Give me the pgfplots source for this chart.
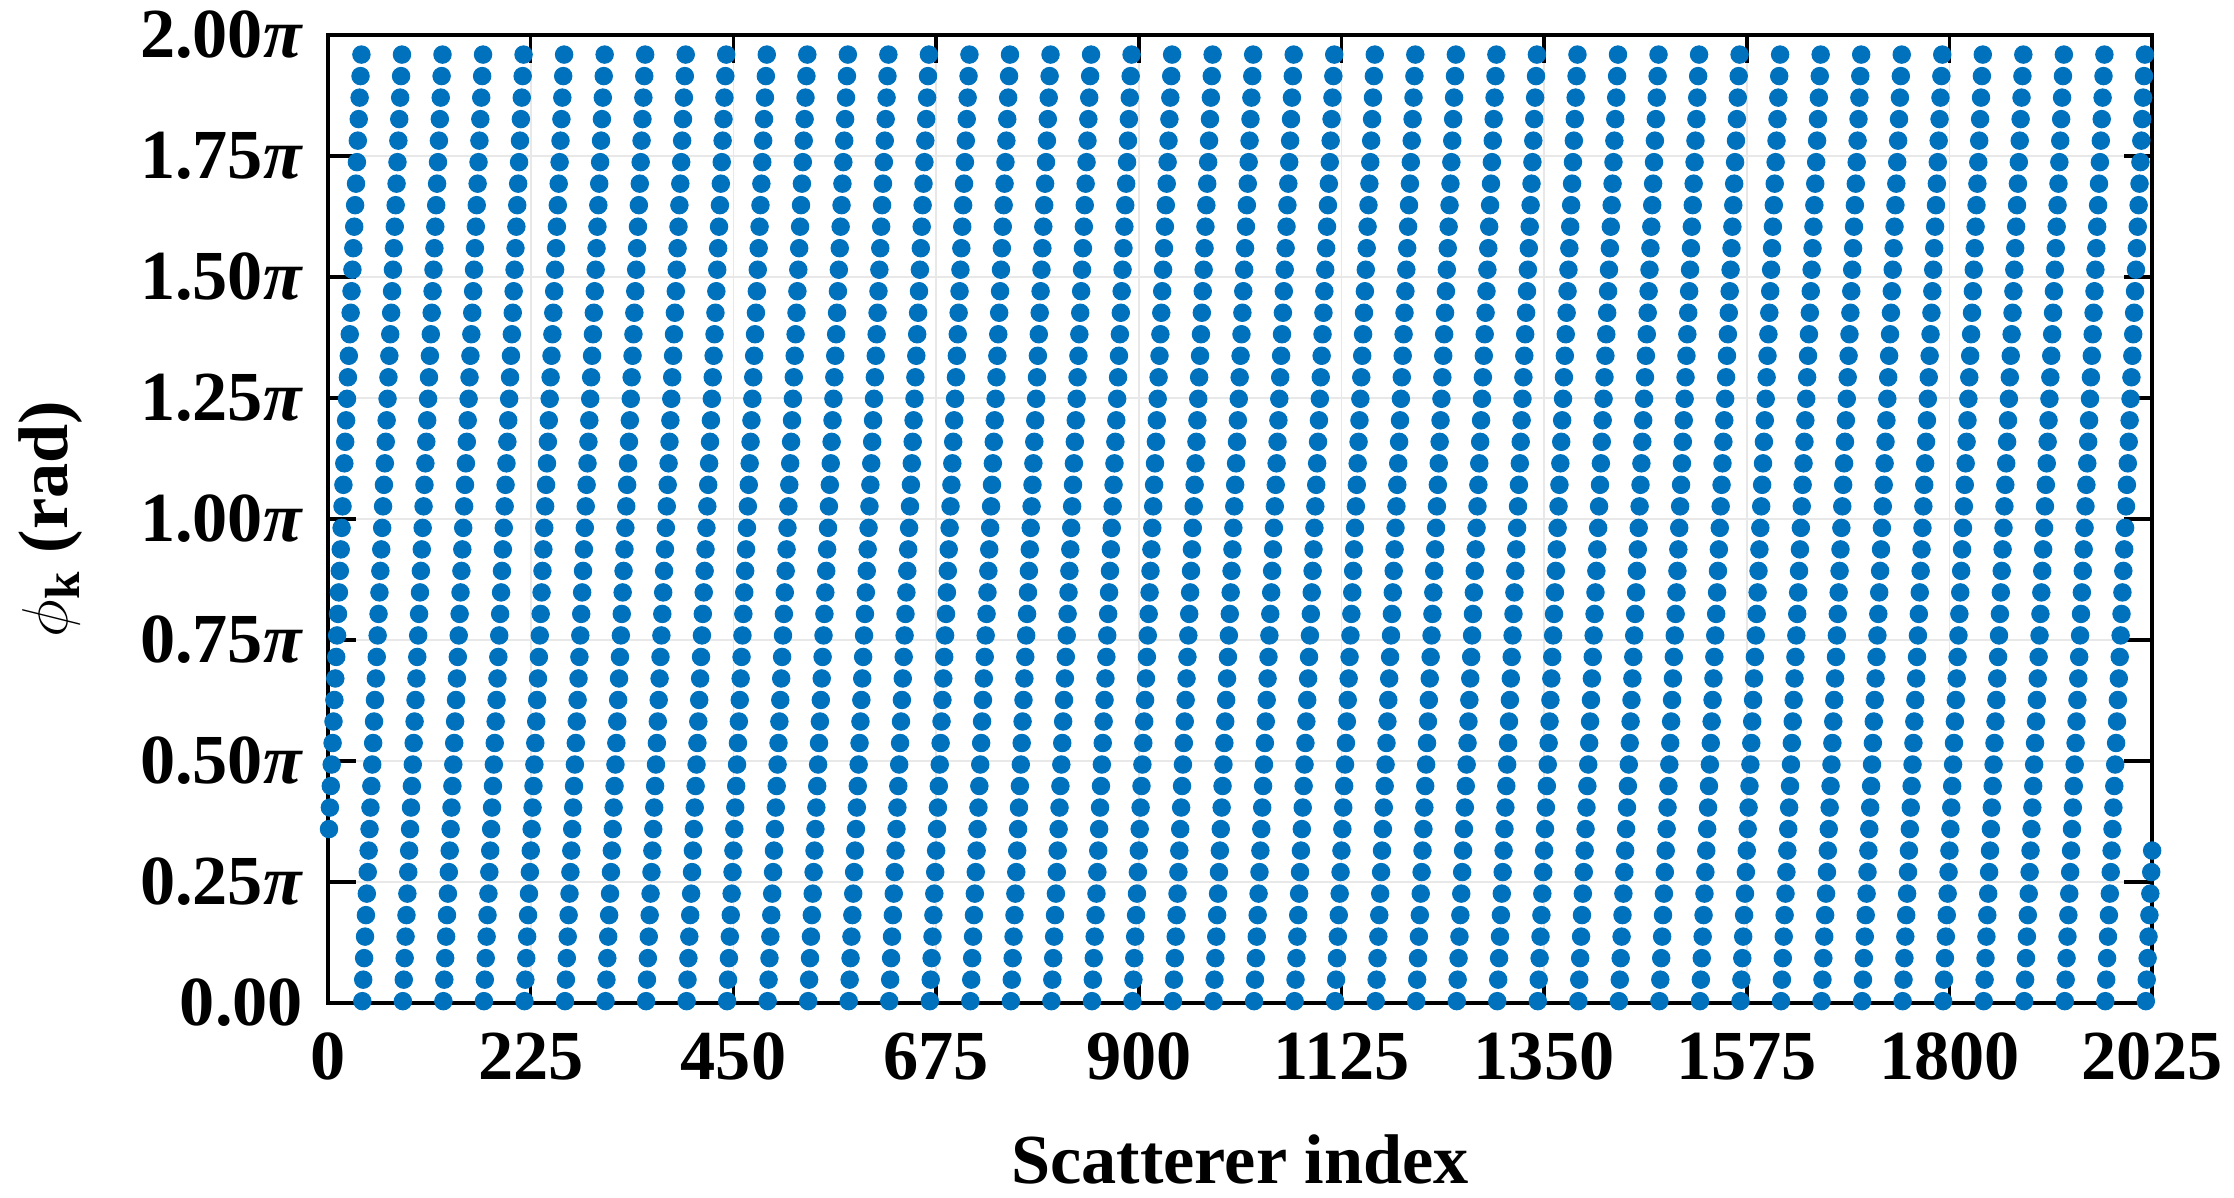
\documentclass[border=0pt]{standalone}
\usepackage{fontspec}
\setmainfont{Liberation Serif}
\usepackage{pgfplots}
\usepackage{pgfplotstable}
\pgfplotsset{compat=1.18}
\definecolor{mblue}{RGB}{0,114,189}
\definecolor{gridgray}{RGB}{232,232,232}

% phase level of each scatterer, in steps of 2pi/45 (index 1..2025), one line per column of dots
\pgfplotstableread[row sep=\\]{
n\\
8\\9\\10\\11\\12\\13\\14\\15\\16\\17\\18\\19\\20\\21\\22\\23\\24\\25\\26\\27\\28\\29\\30\\31\\32\\33\\34\\35\\36\\37\\38\\39\\40\\41\\42\\43\\44\\
0\\1\\2\\3\\4\\5\\6\\7\\8\\9\\10\\11\\12\\13\\14\\15\\16\\17\\18\\19\\20\\21\\22\\23\\24\\25\\26\\27\\28\\29\\30\\31\\32\\33\\34\\35\\36\\37\\38\\39\\40\\41\\42\\43\\44\\
0\\1\\2\\3\\4\\5\\6\\7\\8\\9\\10\\11\\12\\13\\14\\15\\16\\17\\18\\19\\20\\21\\22\\23\\24\\25\\26\\27\\28\\29\\30\\31\\32\\33\\34\\35\\36\\37\\38\\39\\40\\41\\42\\43\\44\\
0\\1\\2\\3\\4\\5\\6\\7\\8\\9\\10\\11\\12\\13\\14\\15\\16\\17\\18\\19\\20\\21\\22\\23\\24\\25\\26\\27\\28\\29\\30\\31\\32\\33\\34\\35\\36\\37\\38\\39\\40\\41\\42\\43\\44\\
0\\1\\2\\3\\4\\5\\6\\7\\8\\9\\10\\11\\12\\13\\14\\15\\16\\17\\18\\19\\20\\21\\22\\23\\24\\25\\26\\27\\28\\29\\30\\31\\32\\33\\34\\35\\36\\37\\38\\39\\40\\41\\42\\43\\44\\
0\\1\\2\\3\\4\\5\\6\\7\\8\\9\\10\\11\\12\\13\\14\\15\\16\\17\\18\\19\\20\\21\\22\\23\\24\\25\\26\\27\\28\\29\\30\\31\\32\\33\\34\\35\\36\\37\\38\\39\\40\\41\\42\\43\\44\\
0\\1\\2\\3\\4\\5\\6\\7\\8\\9\\10\\11\\12\\13\\14\\15\\16\\17\\18\\19\\20\\21\\22\\23\\24\\25\\26\\27\\28\\29\\30\\31\\32\\33\\34\\35\\36\\37\\38\\39\\40\\41\\42\\43\\44\\
0\\1\\2\\3\\4\\5\\6\\7\\8\\9\\10\\11\\12\\13\\14\\15\\16\\17\\18\\19\\20\\21\\22\\23\\24\\25\\26\\27\\28\\29\\30\\31\\32\\33\\34\\35\\36\\37\\38\\39\\40\\41\\42\\43\\44\\
0\\1\\2\\3\\4\\5\\6\\7\\8\\9\\10\\11\\12\\13\\14\\15\\16\\17\\18\\19\\20\\21\\22\\23\\24\\25\\26\\27\\28\\29\\30\\31\\32\\33\\34\\35\\36\\37\\38\\39\\40\\41\\42\\43\\44\\
0\\1\\2\\3\\4\\5\\6\\7\\8\\9\\10\\11\\12\\13\\14\\15\\16\\17\\18\\19\\20\\21\\22\\23\\24\\25\\26\\27\\28\\29\\30\\31\\32\\33\\34\\35\\36\\37\\38\\39\\40\\41\\42\\43\\44\\
0\\1\\2\\3\\4\\5\\6\\7\\8\\9\\10\\11\\12\\13\\14\\15\\16\\17\\18\\19\\20\\21\\22\\23\\24\\25\\26\\27\\28\\29\\30\\31\\32\\33\\34\\35\\36\\37\\38\\39\\40\\41\\42\\43\\44\\
0\\1\\2\\3\\4\\5\\6\\7\\8\\9\\10\\11\\12\\13\\14\\15\\16\\17\\18\\19\\20\\21\\22\\23\\24\\25\\26\\27\\28\\29\\30\\31\\32\\33\\34\\35\\36\\37\\38\\39\\40\\41\\42\\43\\44\\
0\\1\\2\\3\\4\\5\\6\\7\\8\\9\\10\\11\\12\\13\\14\\15\\16\\17\\18\\19\\20\\21\\22\\23\\24\\25\\26\\27\\28\\29\\30\\31\\32\\33\\34\\35\\36\\37\\38\\39\\40\\41\\42\\43\\44\\
0\\1\\2\\3\\4\\5\\6\\7\\8\\9\\10\\11\\12\\13\\14\\15\\16\\17\\18\\19\\20\\21\\22\\23\\24\\25\\26\\27\\28\\29\\30\\31\\32\\33\\34\\35\\36\\37\\38\\39\\40\\41\\42\\43\\44\\
0\\1\\2\\3\\4\\5\\6\\7\\8\\9\\10\\11\\12\\13\\14\\15\\16\\17\\18\\19\\20\\21\\22\\23\\24\\25\\26\\27\\28\\29\\30\\31\\32\\33\\34\\35\\36\\37\\38\\39\\40\\41\\42\\43\\44\\
0\\1\\2\\3\\4\\5\\6\\7\\8\\9\\10\\11\\12\\13\\14\\15\\16\\17\\18\\19\\20\\21\\22\\23\\24\\25\\26\\27\\28\\29\\30\\31\\32\\33\\34\\35\\36\\37\\38\\39\\40\\41\\42\\43\\44\\
0\\1\\2\\3\\4\\5\\6\\7\\8\\9\\10\\11\\12\\13\\14\\15\\16\\17\\18\\19\\20\\21\\22\\23\\24\\25\\26\\27\\28\\29\\30\\31\\32\\33\\34\\35\\36\\37\\38\\39\\40\\41\\42\\43\\44\\
0\\1\\2\\3\\4\\5\\6\\7\\8\\9\\10\\11\\12\\13\\14\\15\\16\\17\\18\\19\\20\\21\\22\\23\\24\\25\\26\\27\\28\\29\\30\\31\\32\\33\\34\\35\\36\\37\\38\\39\\40\\41\\42\\43\\44\\
0\\1\\2\\3\\4\\5\\6\\7\\8\\9\\10\\11\\12\\13\\14\\15\\16\\17\\18\\19\\20\\21\\22\\23\\24\\25\\26\\27\\28\\29\\30\\31\\32\\33\\34\\35\\36\\37\\38\\39\\40\\41\\42\\43\\44\\
0\\1\\2\\3\\4\\5\\6\\7\\8\\9\\10\\11\\12\\13\\14\\15\\16\\17\\18\\19\\20\\21\\22\\23\\24\\25\\26\\27\\28\\29\\30\\31\\32\\33\\34\\35\\36\\37\\38\\39\\40\\41\\42\\43\\44\\
0\\1\\2\\3\\4\\5\\6\\7\\8\\9\\10\\11\\12\\13\\14\\15\\16\\17\\18\\19\\20\\21\\22\\23\\24\\25\\26\\27\\28\\29\\30\\31\\32\\33\\34\\35\\36\\37\\38\\39\\40\\41\\42\\43\\44\\
0\\1\\2\\3\\4\\5\\6\\7\\8\\9\\10\\11\\12\\13\\14\\15\\16\\17\\18\\19\\20\\21\\22\\23\\24\\25\\26\\27\\28\\29\\30\\31\\32\\33\\34\\35\\36\\37\\38\\39\\40\\41\\42\\43\\44\\
0\\1\\2\\3\\4\\5\\6\\7\\8\\9\\10\\11\\12\\13\\14\\15\\16\\17\\18\\19\\20\\21\\22\\23\\24\\25\\26\\27\\28\\29\\30\\31\\32\\33\\34\\35\\36\\37\\38\\39\\40\\41\\42\\43\\44\\
0\\1\\2\\3\\4\\5\\6\\7\\8\\9\\10\\11\\12\\13\\14\\15\\16\\17\\18\\19\\20\\21\\22\\23\\24\\25\\26\\27\\28\\29\\30\\31\\32\\33\\34\\35\\36\\37\\38\\39\\40\\41\\42\\43\\44\\
0\\1\\2\\3\\4\\5\\6\\7\\8\\9\\10\\11\\12\\13\\14\\15\\16\\17\\18\\19\\20\\21\\22\\23\\24\\25\\26\\27\\28\\29\\30\\31\\32\\33\\34\\35\\36\\37\\38\\39\\40\\41\\42\\43\\44\\
0\\1\\2\\3\\4\\5\\6\\7\\8\\9\\10\\11\\12\\13\\14\\15\\16\\17\\18\\19\\20\\21\\22\\23\\24\\25\\26\\27\\28\\29\\30\\31\\32\\33\\34\\35\\36\\37\\38\\39\\40\\41\\42\\43\\44\\
0\\1\\2\\3\\4\\5\\6\\7\\8\\9\\10\\11\\12\\13\\14\\15\\16\\17\\18\\19\\20\\21\\22\\23\\24\\25\\26\\27\\28\\29\\30\\31\\32\\33\\34\\35\\36\\37\\38\\39\\40\\41\\42\\43\\44\\
0\\1\\2\\3\\4\\5\\6\\7\\8\\9\\10\\11\\12\\13\\14\\15\\16\\17\\18\\19\\20\\21\\22\\23\\24\\25\\26\\27\\28\\29\\30\\31\\32\\33\\34\\35\\36\\37\\38\\39\\40\\41\\42\\43\\44\\
0\\1\\2\\3\\4\\5\\6\\7\\8\\9\\10\\11\\12\\13\\14\\15\\16\\17\\18\\19\\20\\21\\22\\23\\24\\25\\26\\27\\28\\29\\30\\31\\32\\33\\34\\35\\36\\37\\38\\39\\40\\41\\42\\43\\44\\
0\\1\\2\\3\\4\\5\\6\\7\\8\\9\\10\\11\\12\\13\\14\\15\\16\\17\\18\\19\\20\\21\\22\\23\\24\\25\\26\\27\\28\\29\\30\\31\\32\\33\\34\\35\\36\\37\\38\\39\\40\\41\\42\\43\\44\\
0\\1\\2\\3\\4\\5\\6\\7\\8\\9\\10\\11\\12\\13\\14\\15\\16\\17\\18\\19\\20\\21\\22\\23\\24\\25\\26\\27\\28\\29\\30\\31\\32\\33\\34\\35\\36\\37\\38\\39\\40\\41\\42\\43\\44\\
0\\1\\2\\3\\4\\5\\6\\7\\8\\9\\10\\11\\12\\13\\14\\15\\16\\17\\18\\19\\20\\21\\22\\23\\24\\25\\26\\27\\28\\29\\30\\31\\32\\33\\34\\35\\36\\37\\38\\39\\40\\41\\42\\43\\44\\
0\\1\\2\\3\\4\\5\\6\\7\\8\\9\\10\\11\\12\\13\\14\\15\\16\\17\\18\\19\\20\\21\\22\\23\\24\\25\\26\\27\\28\\29\\30\\31\\32\\33\\34\\35\\36\\37\\38\\39\\40\\41\\42\\43\\44\\
0\\1\\2\\3\\4\\5\\6\\7\\8\\9\\10\\11\\12\\13\\14\\15\\16\\17\\18\\19\\20\\21\\22\\23\\24\\25\\26\\27\\28\\29\\30\\31\\32\\33\\34\\35\\36\\37\\38\\39\\40\\41\\42\\43\\44\\
0\\1\\2\\3\\4\\5\\6\\7\\8\\9\\10\\11\\12\\13\\14\\15\\16\\17\\18\\19\\20\\21\\22\\23\\24\\25\\26\\27\\28\\29\\30\\31\\32\\33\\34\\35\\36\\37\\38\\39\\40\\41\\42\\43\\44\\
0\\1\\2\\3\\4\\5\\6\\7\\8\\9\\10\\11\\12\\13\\14\\15\\16\\17\\18\\19\\20\\21\\22\\23\\24\\25\\26\\27\\28\\29\\30\\31\\32\\33\\34\\35\\36\\37\\38\\39\\40\\41\\42\\43\\44\\
0\\1\\2\\3\\4\\5\\6\\7\\8\\9\\10\\11\\12\\13\\14\\15\\16\\17\\18\\19\\20\\21\\22\\23\\24\\25\\26\\27\\28\\29\\30\\31\\32\\33\\34\\35\\36\\37\\38\\39\\40\\41\\42\\43\\44\\
0\\1\\2\\3\\4\\5\\6\\7\\8\\9\\10\\11\\12\\13\\14\\15\\16\\17\\18\\19\\20\\21\\22\\23\\24\\25\\26\\27\\28\\29\\30\\31\\32\\33\\34\\35\\36\\37\\38\\39\\40\\41\\42\\43\\44\\
0\\1\\2\\3\\4\\5\\6\\7\\8\\9\\10\\11\\12\\13\\14\\15\\16\\17\\18\\19\\20\\21\\22\\23\\24\\25\\26\\27\\28\\29\\30\\31\\32\\33\\34\\35\\36\\37\\38\\39\\40\\41\\42\\43\\44\\
0\\1\\2\\3\\4\\5\\6\\7\\8\\9\\10\\11\\12\\13\\14\\15\\16\\17\\18\\19\\20\\21\\22\\23\\24\\25\\26\\27\\28\\29\\30\\31\\32\\33\\34\\35\\36\\37\\38\\39\\40\\41\\42\\43\\44\\
0\\1\\2\\3\\4\\5\\6\\7\\8\\9\\10\\11\\12\\13\\14\\15\\16\\17\\18\\19\\20\\21\\22\\23\\24\\25\\26\\27\\28\\29\\30\\31\\32\\33\\34\\35\\36\\37\\38\\39\\40\\41\\42\\43\\44\\
0\\1\\2\\3\\4\\5\\6\\7\\8\\9\\10\\11\\12\\13\\14\\15\\16\\17\\18\\19\\20\\21\\22\\23\\24\\25\\26\\27\\28\\29\\30\\31\\32\\33\\34\\35\\36\\37\\38\\39\\40\\41\\42\\43\\44\\
0\\1\\2\\3\\4\\5\\6\\7\\8\\9\\10\\11\\12\\13\\14\\15\\16\\17\\18\\19\\20\\21\\22\\23\\24\\25\\26\\27\\28\\29\\30\\31\\32\\33\\34\\35\\36\\37\\38\\39\\40\\41\\42\\43\\44\\
0\\1\\2\\3\\4\\5\\6\\7\\8\\9\\10\\11\\12\\13\\14\\15\\16\\17\\18\\19\\20\\21\\22\\23\\24\\25\\26\\27\\28\\29\\30\\31\\32\\33\\34\\35\\36\\37\\38\\39\\40\\41\\42\\43\\44\\
0\\1\\2\\3\\4\\5\\6\\7\\8\\9\\10\\11\\12\\13\\14\\15\\16\\17\\18\\19\\20\\21\\22\\23\\24\\25\\26\\27\\28\\29\\30\\31\\32\\33\\34\\35\\36\\37\\38\\39\\40\\41\\42\\43\\44\\
0\\1\\2\\3\\4\\5\\6\\7\\
}\phasetab

\begin{document}
\begin{tikzpicture}
\path[use as bounding box] (-105pt,-62.1pt) rectangle (609.9pt,321pt);
\begin{axis}[
  scale only axis,
  width=583.7pt, height=309.8pt,
  xmin=0, xmax=2025, ymin=0, ymax=2,
  xtick={0,225,450,675,900,1125,1350,1575,1800,2025},
  xticklabels={0,225,450,675,900,1125,1350,1575,1800,2025},
  ytick={0,0.25,0.5,0.75,1,1.25,1.5,1.75,2},
  yticklabels={0.00,0.25\textit{π},0.50\textit{π},0.75\textit{π},1.00\textit{π},1.25\textit{π},1.50\textit{π},1.75\textit{π},2.00\textit{π}},
  tick label style={font=\fontsize{22.5}{27}\selectfont\bfseries},
  x tick label style={yshift=-6pt},
  y tick label style={xshift=-4.5pt},
  grid=major,
  grid style={gridgray, line width=0.6pt},
  axis line style={line width=1.1pt},
  major tick style={black, line width=1.1pt},
  major tick length=9pt,
  axis on top,
  clip=false,
  xlabel={Scatterer index},
  ylabel={$\phi_{\mathbf{k}}$ (rad)},
  label style={font=\fontsize{22.5}{27}\selectfont\bfseries, inner sep=0pt},
  xlabel style={at={(axis description cs:0.5,-0.162)}, anchor=center},
  ylabel style={at={(axis description cs:-0.152,0.5)}, anchor=center},
]
\addplot[only marks, mark=*, mark size=2.8pt,
  mark options={draw=mblue, fill=mblue, line width=0.3pt}]
  table[x index=0, y index=0, x expr=\coordindex+1, y expr=\thisrow{n}*2/45+0.004] {\phasetab};
\end{axis}
\end{tikzpicture}
\end{document}
